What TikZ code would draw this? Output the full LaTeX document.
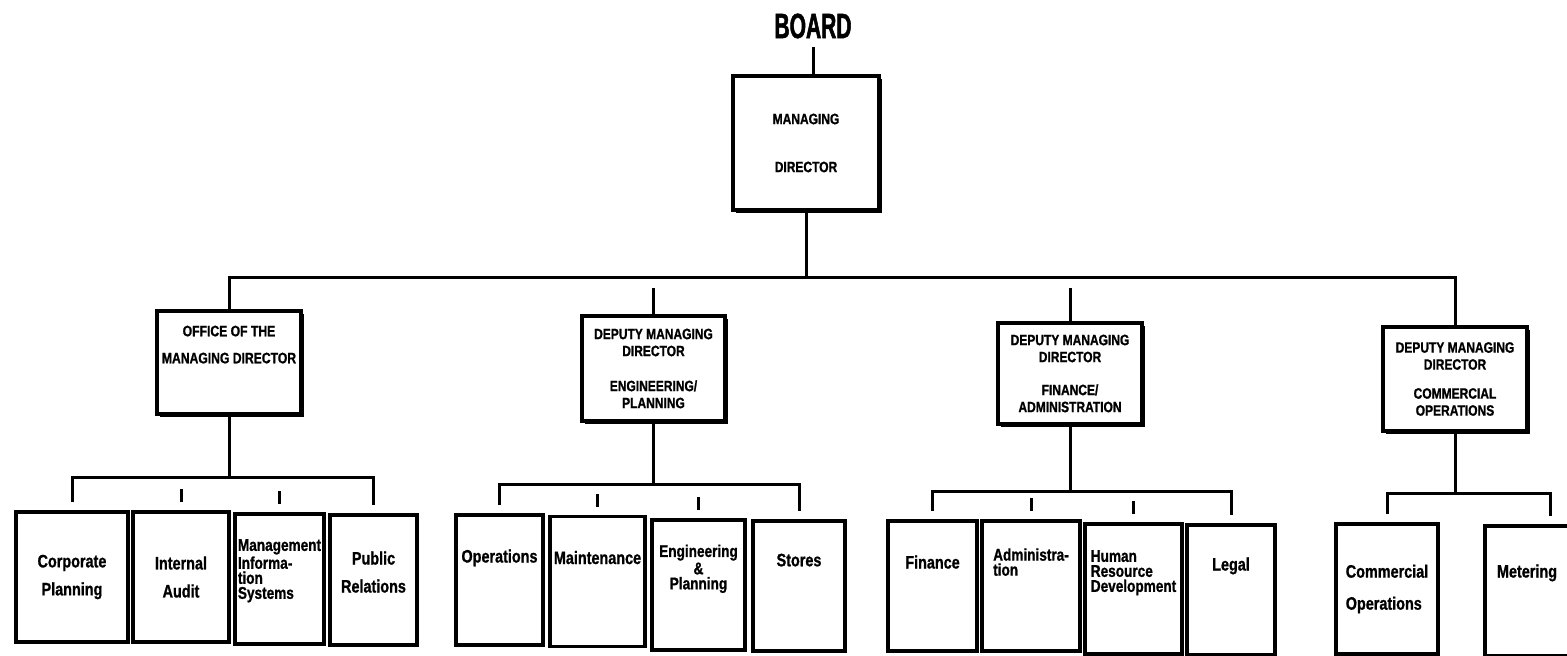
\documentclass[tikz,border=0pt]{standalone}
\usepackage{fontspec}
\usetikzlibrary{shadows}
\newfontfamily\orgfont{Liberation Sans}[FakeStretch=0.8, FakeBold=1]
\newfontfamily\boardfont{Liberation Sans}[FakeStretch=0.6, FakeBold=1.5]

\begin{document}
\begin{tikzpicture}[
  x=0.5pt, y=-0.5pt,
  line width=1.5pt,
  head/.style={draw, line width=1.8pt, fill=white, inner sep=1pt, align=center,
    drop shadow={shadow xshift=1.5pt, shadow yshift=-1.5pt, fill=black, opacity=1},
    font=\orgfont\bfseries\fontsize{7.5}{8.5}\selectfont},
  sub/.style={draw, line width=1.8pt, fill=white, inner sep=1pt, align=center, minimum height=65pt,
    font=\orgfont\bfseries\fontsize{9}{11}\selectfont},
  tight/.style={font=\orgfont\bfseries\fontsize{8.5}{7.5}\selectfont},
  lift/.style={text depth=#1},
]
  \path[use as bounding box, clip] (0,0) rectangle (1567,656);

  \node[font=\boardfont\bfseries\fontsize{17.5}{19}\selectfont] (board) at (813,26) {BOARD};
  \node[head, minimum width=73pt, minimum height=67pt] (md) at (806,143) {MANAGING\\[15.5pt]DIRECTOR};
  \draw (board) -- (board |- md.north);

  \node[head, minimum width=72pt, minimum height=51.5pt, lift=18pt,
    font=\orgfont\bfseries\fontsize{7.6}{8.5}\selectfont] (omd) at (229,362.5) {OFFICE OF THE\\[5pt]MANAGING DIRECTOR};
  \node[head, minimum width=71.5pt, minimum height=52.5pt] (dmde) at (653.5,368.5) {DEPUTY MANAGING\\DIRECTOR\\[9pt]ENGINEERING/\\PLANNING};
  \node[head, minimum width=72pt, minimum height=50.5pt] (dmdf) at (1070,373.5) {DEPUTY MANAGING\\DIRECTOR\\[8pt]FINANCE/\\ADMINISTRATION};
  \node[head, minimum width=72pt, minimum height=52pt] (dmdc) at (1455,379) {DEPUTY MANAGING\\DIRECTOR\\[6pt]COMMERCIAL\\OPERATIONS};

  \coordinate (bar) at (806,278);
  \coordinate (bare) at (653.5,278);
  \coordinate (barf) at (1070,278);
  \draw (md) -- (bar);
  \draw (omd) |- (bar) -| (dmdc);
  \draw ([yshift=-5pt]bare) -- (dmde);
  \draw ([yshift=-5pt]barf) -- (dmdf);

  \node[sub, minimum width=56pt] (cp) at (72,577) {Corporate\\[3pt]Planning};
  \node[sub, minimum width=48pt] (ia) at (181,577) {Internal\\[3pt]Audit};
  \node[sub, tight, minimum width=44.5pt, lift=10pt, align=left] (mis) at (279.5,579) {Management\\Informa-\\tion\\Systems};
  \node[sub, minimum width=43.5pt, lift=8pt] (pr) at (373.5,580) {Public\\[3pt]Relations};

  \node[sub, minimum width=43.5pt, lift=24pt] (ops) at (499.5,580) {Operations};
  \node[sub, minimum width=47.5pt, lift=24pt] (mnt) at (597.5,581.5) {Maintenance};
  \node[sub, tight, minimum width=46.5pt, lift=18pt] (eng) at (698.5,585) {Engineering\\\&\\Planning};
  \node[sub, minimum width=46pt, lift=26pt] (sto) at (799,586) {Stores};

  \node[sub, minimum width=44.5pt, lift=24pt] (fin) at (932.5,586) {Finance};
  \node[sub, tight, minimum width=49pt, lift=24pt, align=left] (adm) at (1031,586) {Administra-\\tion};
  \node[sub, tight, minimum width=48.5pt, lift=18pt, align=left] (hrd) at (1133.5,589) {Human\\Resource\\Development};
  \node[sub, minimum width=44pt, lift=26pt] (leg) at (1231,590) {Legal};

  \node[sub, minimum width=51pt, align=left] (cop) at (1387,589) {Commercial\\[5pt]Operations};
  \node[sub, text width=55.5pt, lift=20pt, align=left] (met) at (1542.5,591) {\hspace*{5pt}Metering};

  \coordinate (b1) at (229,478);
  \coordinate (b2) at (653.5,485);
  \coordinate (b3) at (1070,492);
  \coordinate (b4) at (1455,494);

  \draw (omd) -- (b1);
  \draw ([yshift=4pt]cp.north) |- (b1) -| ([yshift=4pt]pr.north);
  \draw ([yshift=4pt]ia.north) -- ++(0,-13);
  \draw ([yshift=4pt]mis.north) -- ++(0,-13);

  \draw (dmde) -- (b2);
  \draw ([yshift=4pt]ops.north) |- (b2) -| ([yshift=4pt]sto.north);
  \draw ([yshift=4pt]mnt.north) -- ++(0,-13);
  \draw ([yshift=4pt]eng.north) -- ++(0,-13);

  \draw (dmdf) -- (b3);
  \draw ([yshift=4pt]fin.north) |- (b3) -| ([yshift=4pt]leg.north);
  \draw ([yshift=4pt]adm.north) -- ++(0,-13);
  \draw ([yshift=4pt]hrd.north) -- ++(0,-13);

  \draw (dmdc) -- (b4);
  \draw ([yshift=4pt]cop.north) |- (b4) -| ([xshift=4pt,yshift=4pt]met.north);
\end{tikzpicture}
\end{document}
